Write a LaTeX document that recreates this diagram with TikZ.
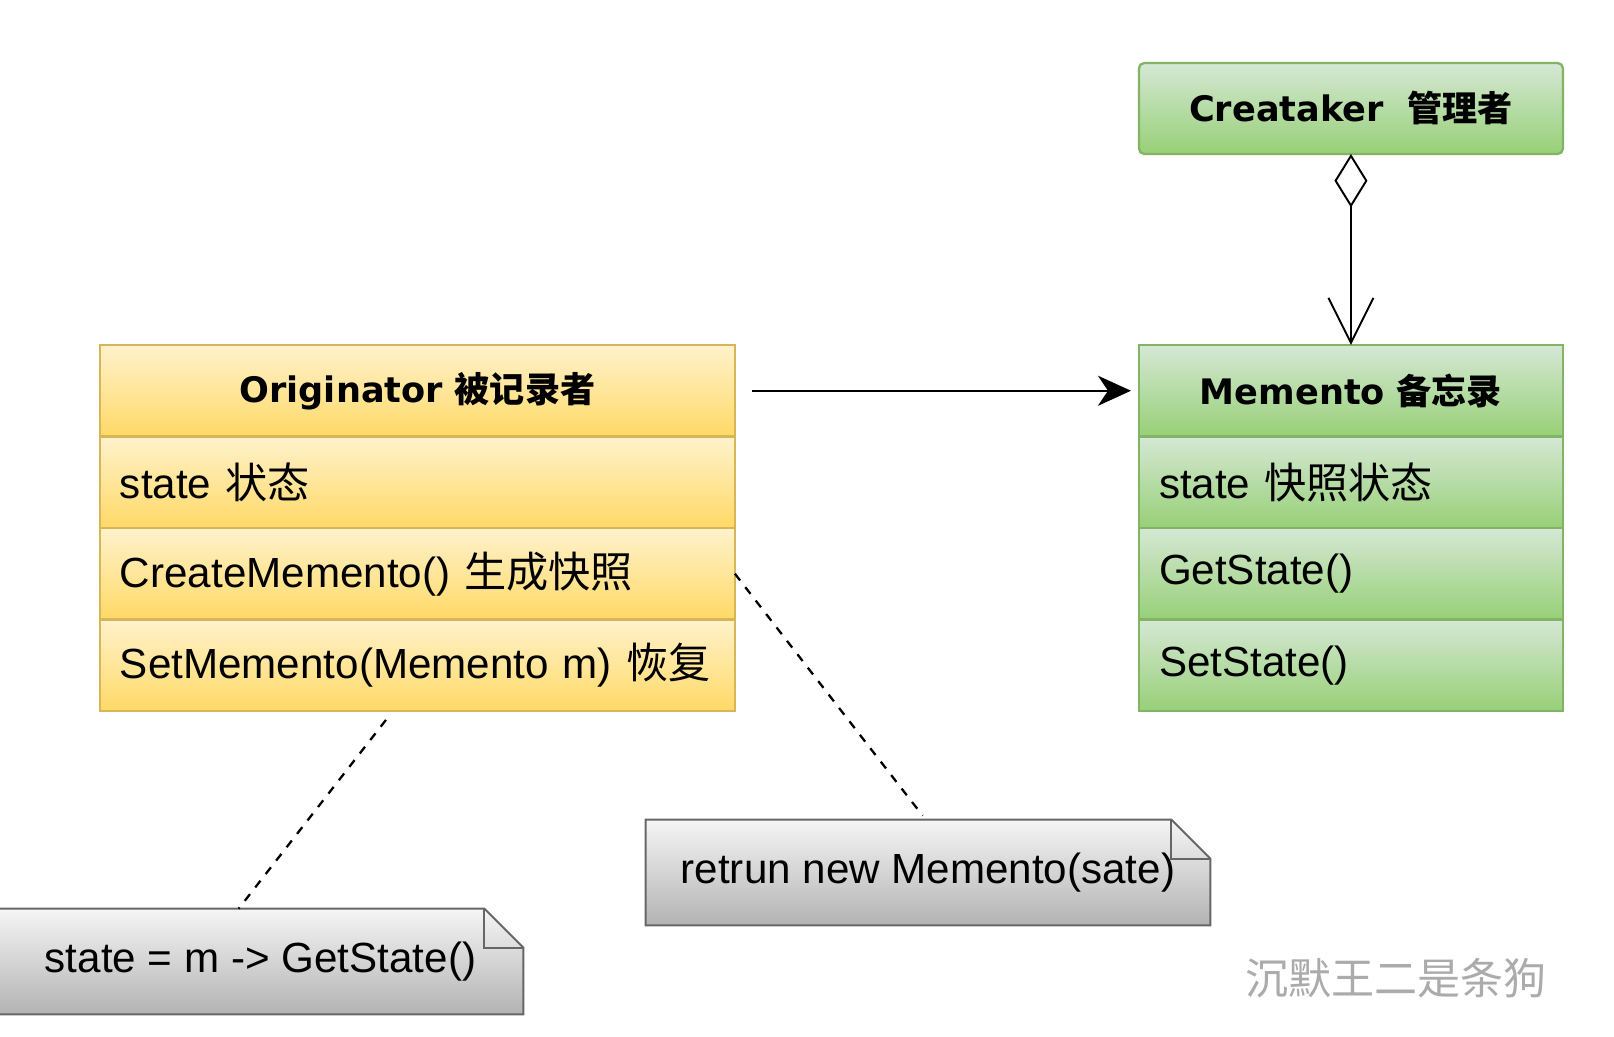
\documentclass[tikz,border=0pt]{standalone}
\usepackage{fontspec}
\setmainfont{Liberation Sans}
\newfontfamily\headfont{DejaVu Sans}
\newfontfamily\cjk{Noto Sans CJK SC}
\newcommand{\zh}[1]{{\cjk #1}}
\usetikzlibrary{positioning,arrows.meta,backgrounds}

\definecolor{oritop}{HTML}{FFF2CC}
\definecolor{oribot}{HTML}{FFD966}
\definecolor{oriline}{HTML}{D6B656}
\definecolor{memtop}{HTML}{D5E8D4}
\definecolor{membot}{HTML}{97D077}
\definecolor{memline}{HTML}{82B366}
\definecolor{notetop}{HTML}{F5F5F5}
\definecolor{notebot}{HTML}{B3B3B3}
\definecolor{noteline}{HTML}{666666}
\definecolor{wmark}{HTML}{ABABAB}

\begin{document}
\begin{tikzpicture}[x=0.02cm, y=-0.02cm,
    box/.style={draw=#1line, line width=1.3pt, top color=#1top, bottom color=#1bot,
      minimum height=1.83cm, inner xsep=0.4cm, outer sep=0pt},
    head/.style={box=#1, align=center, font=\headfont\bfseries\fontsize{20}{24}\selectfont},
    row/.style={box=#1, align=left, font=\fontsize{24}{29}\selectfont},
    owide/.style={minimum width=12.7cm, text width=11.9cm},
    mwide/.style={minimum width=8.48cm, text width=7.68cm},
    note/.style={minimum height=2.1cm, font=\fontsize{24}{29}\selectfont},
    flow/.style={line width=1.1pt, -{Stealth[length=0.66cm, width=0.6cm, inset=0.2cm]},
      shorten <=0.34cm, shorten >=0.16cm},
    agg/.style={line width=1.1pt,
      {Diamond[fill=white, length=1.07cm, width=0.66cm]}-{Straight Barb[length=0.9cm, width=0.9cm]}},
    tie/.style={line width=1.3pt, dash pattern=on 0.17cm off 0.17cm}]
  \useasboundingbox (0,0) rectangle (1614,1036);

  \node[head=ori, owide, anchor=north west] (o0) at (100,345) {Originator \zh{被记录者}};
  \node[row=ori, owide, below=0pt of o0] (o1) {state \zh{状态}};
  \node[row=ori, owide, below=0pt of o1] (o2) {CreateMemento() \zh{生成快照}};
  \node[row=ori, owide, below=0pt of o2] (o3) {SetMemento(Memento m) \zh{恢复}};

  \node[head=mem, mwide, anchor=north west, rounded corners=3pt, minimum height=1.82cm]
    (care) at (1139,63) {Creataker\ \ \zh{管理者}};
  \node[head=mem, mwide, anchor=north west] (m0) at (1139,345) {Memento \zh{备忘录}};
  \node[row=mem, mwide, below=0pt of m0] (m1) {state \zh{快照状态}};
  \node[row=mem, mwide, below=0pt of m1] (m2) {GetState()};
  \node[row=mem, mwide, below=0pt of m2] (m3) {SetState()};

  \node[note, minimum width=10.5cm] (n1) at (260.5,961.5) {state = m -> GetState()};
  \node[note, minimum width=11.28cm] (n2) at (928,872.5) {retrun new Memento(sate)};
  \begin{scope}[on background layer]
    \fill[white] (0,0) rectangle (1614,1036);
    \foreach \n in {n1,n2} {
      \draw[draw=noteline, line width=1.1pt, top color=notetop, bottom color=notebot]
        (\n.north west) -- ([xshift=-0.78cm]\n.north east) -- ([yshift=-0.78cm]\n.north east)
        -- (\n.south east) -- (\n.south west) -- cycle;
      \draw[draw=noteline, line width=1.1pt] ([xshift=-0.78cm]\n.north east)
        -- ([xshift=-0.78cm, yshift=-0.78cm]\n.north east) -- ([yshift=-0.78cm]\n.north east);
    }
  \end{scope}

  \draw[flow] (o0.east) -- (m0.west);
  \draw[agg] (care.south) -- (m0.north);
  \draw[tie] ([xshift=5.72cm, yshift=-0.18cm]o3.south west) -- ([xshift=4.82cm]n1.north west);
  \draw[tie] (o2.east) -- ([xshift=5.54cm, yshift=0.08cm]n2.north west);

  \node[anchor=west, inner sep=0pt, text=wmark, font=\cjk\fontsize{24.5}{28}\selectfont]
    (wm) at (1245,978) {沉默王二是条狗};
\end{tikzpicture}
\end{document}
